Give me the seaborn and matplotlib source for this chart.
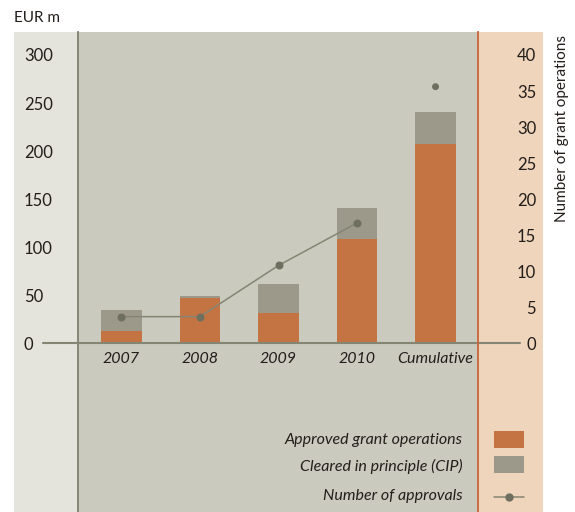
import seaborn as sns
import matplotlib.pyplot as plt
import numpy as np
import pandas as pd
from matplotlib.patches import Rectangle
from matplotlib.lines import Line2D

# data (EUR m, number of operations)
categories = ["2007", "2008", "2009", "2010", "Cumulative"]
approved = [12.8, 47.5, 31.5, 108.2, 207.4]
cleared = [21.9, 2.0, 30.2, 32.6, 33.3]
approvals = [3.7, 3.7, 10.8, 16.7, 35.6]
left_ticks = [0, 50, 100, 150, 200, 250, 300]
right_ticks = [0, 5, 10, 15, 20, 25, 30, 35, 40]

df = pd.DataFrame({"category": categories,
                   "approved": approved,
                   "total": np.add(approved, cleared)})

sns.set_style("white")
plt.rcParams['font.family'] = ['Lato', 'DejaVu Sans']

W, H = 575, 512
orange = "#c47443"
gray = "#9c998b"
main_bg = "#cacabe"
left_bg = "#e4e3dc"
right_bg = "#eed5bb"
line_c = "#858574"
dot_c = "#6f6f5f"
txt = "#231e1b"

fig = plt.figure(figsize=(W / 100, H / 100), dpi=100)

# side panels (behind the axes)
fig.patches.append(Rectangle((14 / W, 0), 64 / W, 480 / H, transform=fig.transFigure,
                             facecolor=left_bg, edgecolor="none", zorder=-5))
fig.patches.append(Rectangle((478 / W, 0), 65 / W, 480 / H, transform=fig.transFigure,
                             facecolor=right_bg, edgecolor="none", zorder=-5))

ax = fig.add_axes([78 / W, 0, 400 / W, 480 / H])
ax.set_facecolor(main_bg)

sns.barplot(data=df, x="category", y="total", color=gray, width=0.52,
            saturation=1, linewidth=0, edgecolor="none", ax=ax)
sns.barplot(data=df, x="category", y="approved", color=orange, width=0.52,
            saturation=1, linewidth=0, edgecolor="none", ax=ax)

ax.set_xlim(-0.554, 4.541)
ax.set_ylim(-175.5, 323.9)
ax.axhline(0, xmin=(43 - 78) / 400, xmax=(520 - 78) / 400, clip_on=False,
           color=line_c, lw=1.5, zorder=3)

ax2 = ax.twinx()
sns.lineplot(x=[0, 1, 2, 3], y=approvals[:4], ax=ax2, color=line_c, lw=1.1,
             marker="o", markersize=5, markeredgecolor=dot_c, markerfacecolor=dot_c)
sns.scatterplot(x=[4], y=[approvals[4]], ax=ax2, color=dot_c, s=25,
                edgecolor="none")
ax2.set_ylim(-175.5 / 7.5, 323.9 / 7.5)

# axes styling
ax.set_xlabel("")
ax.set_ylabel("")
ax2.set_xlabel("")
ax2.set_ylabel("")
ax.set_yticks(left_ticks)
ax2.set_yticks(right_ticks)
ax.tick_params(axis="y", length=0, pad=38.9, labelsize=12, labelcolor=txt)
ax2.tick_params(axis="y", length=0, pad=41.8, labelsize=12, labelcolor=txt)
ax.tick_params(axis="x", length=0, pad=-115, labelsize=11.5, labelcolor=txt)
for t in ax.get_yticklabels():
    t.set_horizontalalignment("left")
for t in ax2.get_yticklabels():
    t.set_horizontalalignment("right")
for t in ax.get_xticklabels():
    t.set_fontstyle("italic")

for s in ["top", "bottom", "right"]:
    ax.spines[s].set_visible(False)
ax.spines["left"].set_color("#80806f")
ax.spines["left"].set_linewidth(1.3)
for s in ["top", "bottom", "left"]:
    ax2.spines[s].set_visible(False)
ax2.spines["right"].set_color("#c8643a")
ax2.spines["right"].set_linewidth(1.3)

fig.text(14 / W, 1 - 18 / H, "EUR m", ha="left", va="center", fontsize=11, color=txt)
fig.text(562 / W, 1 - 128 / H, "Number of grant operations", rotation=90,
         ha="center", va="center", fontsize=11, color=txt)

# legend
leg_rows = [("Approved grant operations", 440), ("Cleared in principle (CIP)", 466),
            ("Number of approvals", 496)]
for label, y in leg_rows:
    fig.text(463 / W, 1 - y / H, label, ha="right", va="center", fontsize=11.5,
             style="italic", color=txt)
fig.patches.append(Rectangle((494 / W, 1 - 448 / H), 30 / W, 17 / H,
                             transform=fig.transFigure, facecolor=orange, edgecolor="none"))
fig.patches.append(Rectangle((494 / W, 1 - 473 / H), 30 / W, 17 / H,
                             transform=fig.transFigure, facecolor=gray, edgecolor="none"))
fig.lines.append(Line2D([494 / W, 524 / W], [1 - 496.5 / H, 1 - 496.5 / H],
                        transform=fig.transFigure, color=line_c, lw=1.1))
fig.lines.append(Line2D([509 / W], [1 - 496.5 / H], transform=fig.transFigure,
                        marker="o", markersize=5, color=dot_c, lw=0))

fig.savefig("out.png", dpi=100)
